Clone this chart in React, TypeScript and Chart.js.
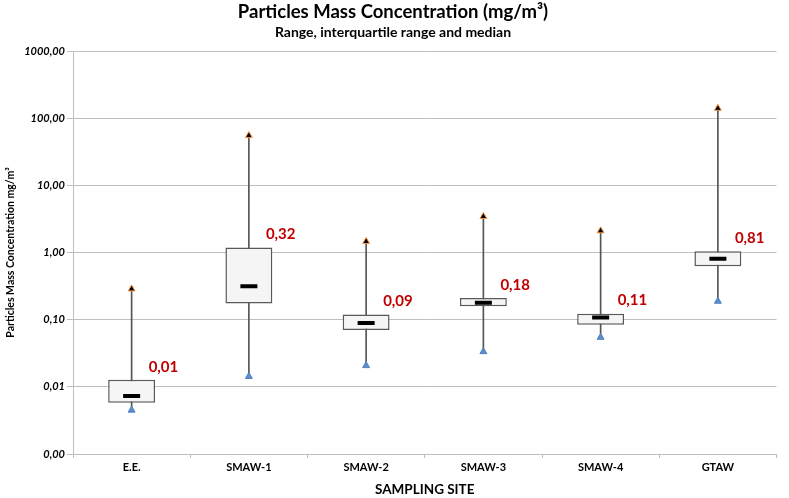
import React, { useEffect, useRef } from 'react';
import { Chart, registerables } from 'chart.js';

Chart.register(...registerables);

const FONT = 'Lato, "Open Sans", sans-serif';

const categories = ['E.E.', 'SMAW-1', 'SMAW-2', 'SMAW-3', 'SMAW-4', 'GTAW'];
const minValues = [0.0045, 0.0143, 0.0207, 0.0334, 0.0546, 0.188];
const q1Values = [0.0058, 0.174, 0.0703, 0.158, 0.0843, 0.625];
const medianValues = [0.0073, 0.315, 0.089, 0.179, 0.108, 0.805];
const q3Values = [0.0127, 1.19, 0.119, 0.21, 0.123, 1.045];
const maxValues = [0.287, 55, 1.46, 3.43, 2.1, 140];
const yTicks = [0.001, 0.01, 0.1, 1, 10, 100, 1000];

const fmt = (v: number) => v.toFixed(2).replace('.', ',');

const medianLabelPlugin = {
  id: 'medianLabels',
  afterDatasetsDraw(chart: any) {
    const { ctx, scales } = chart;
    const x = scales.x;
    const y = scales.y;
    ctx.save();
    ctx.font = `bold 15px ${FONT}`;
    ctx.fillStyle = '#c00000';
    ctx.textAlign = 'left';
    ctx.textBaseline = 'middle';
    medianValues.forEach((m, i) => {
      const px = x.getPixelForValue(i);
      const py = y.getPixelForValue(q3Values[i]);
      ctx.fillText(fmt(m), px + 17, py - 13);
    });
    ctx.restore();
  },
};

export default function App() {
  const canvasRef = useRef<HTMLCanvasElement | null>(null);

  useEffect(() => {
    document.body.style.margin = '0';
    const canvas = canvasRef.current;
    if (!canvas) return;
    const chart = new Chart(canvas, {
      type: 'bar',
      data: {
        labels: categories,
        datasets: [
          {
            type: 'bar',
            label: 'range',
            data: minValues.map((v, i) => [v, maxValues[i]]) as any,
            backgroundColor: '#555555',
            borderWidth: 0,
            barThickness: 1,
            grouped: false,
            order: 4,
          } as any,
          {
            type: 'bar',
            label: 'iqr',
            data: q1Values.map((v, i) => [v, q3Values[i]]) as any,
            backgroundColor: '#f5f5f5',
            borderColor: '#595959',
            borderWidth: 1.5,
            borderSkipped: false,
            grouped: false,
            barPercentage: 0.4,
            categoryPercentage: 1,
            order: 3,
          } as any,
          {
            type: 'line',
            label: 'median',
            data: medianValues,
            showLine: false,
            pointStyle: 'line',
            pointRadius: 8.5,
            pointBorderWidth: 4,
            pointBorderColor: '#000000',
            pointBackgroundColor: '#000000',
            order: 2,
          } as any,
          {
            type: 'line',
            label: 'max',
            data: maxValues,
            showLine: false,
            pointStyle: 'triangle',
            pointRadius: 4,
            pointBorderWidth: 1,
            pointBorderColor: '#f79646',
            pointBackgroundColor: '#000000',
            order: 1,
          } as any,
          {
            type: 'line',
            label: 'min',
            data: minValues,
            showLine: false,
            pointStyle: 'triangle',
            pointRadius: 4,
            pointBorderWidth: 1,
            pointBorderColor: '#4f81bd',
            pointBackgroundColor: '#5b8fd0',
            order: 1,
          } as any,
        ],
      },
      options: {
        animation: false,
        responsive: true,
        maintainAspectRatio: false,
        events: [],
        layout: { padding: { left: 0, right: 3, top: 0, bottom: 0 } },
        plugins: {
          legend: { display: false },
          tooltip: { enabled: false },
          title: {
            display: true,
            text: 'Particles Mass Concentration (mg/m³)',
            color: '#000000',
            font: { family: FONT, size: 18.5, weight: 'bold', lineHeight: 1.2 },
            padding: { top: 1, bottom: 0 },
          },
          subtitle: {
            display: true,
            text: 'Range, interquartile range and median',
            color: '#000000',
            font: { family: FONT, size: 14, weight: 'bold', lineHeight: 1.2 },
            padding: { top: 0.4, bottom: 10.6 },
          },
        },
        scales: {
          x: {
            type: 'category',
            offset: true,
            grid: {
              display: true,
              drawOnChartArea: false,
              drawTicks: true,
              tickLength: 4,
              color: '#bfbfbf',
              offset: true,
            },
            border: { display: true, color: '#bfbfbf' },
            ticks: {
              color: '#000000',
              font: { family: FONT, size: 11, weight: 'bold' },
              padding: 3,
              maxRotation: 0,
            },
            title: {
              display: true,
              text: 'SAMPLING SITE',
              color: '#000000',
              font: { family: FONT, size: 13.5, weight: 'bold', lineHeight: 1.2 },
              padding: { top: 0, bottom: 0 },
            },
            afterFit: (scale: any) => {
              scale.height = 44;
            },
          },
          y: {
            type: 'logarithmic',
            min: 0.001,
            max: 1000,
            afterBuildTicks: (scale: any) => {
              scale.ticks = yTicks.map((v) => ({ value: v }));
            },
            grid: {
              color: '#bfbfbf',
              tickColor: '#bfbfbf',
              tickLength: 6,
              lineWidth: 1,
            },
            border: { display: true, color: '#bfbfbf' },
            ticks: {
              color: '#000000',
              font: { family: FONT, size: 11, weight: 'bold', style: 'italic' },
              padding: 2,
              callback: (v: any) => fmt(Number(v)),
            },
            title: {
              display: true,
              text: 'Particles Mass Concentration mg/m³',
              color: '#000000',
              font: { family: FONT, size: 10.5, weight: 'bold', lineHeight: 1.2 },
              padding: { top: 4, bottom: 0 },
            },
            afterFit: (scale: any) => {
              scale.width = 73;
            },
          },
        },
      } as any,
      plugins: [medianLabelPlugin],
    });
    return () => chart.destroy();
  }, []);

  return (
    <div style={{ position: 'relative', width: 789, height: 498 }}>
      <canvas ref={canvasRef} />
    </div>
  );
}
